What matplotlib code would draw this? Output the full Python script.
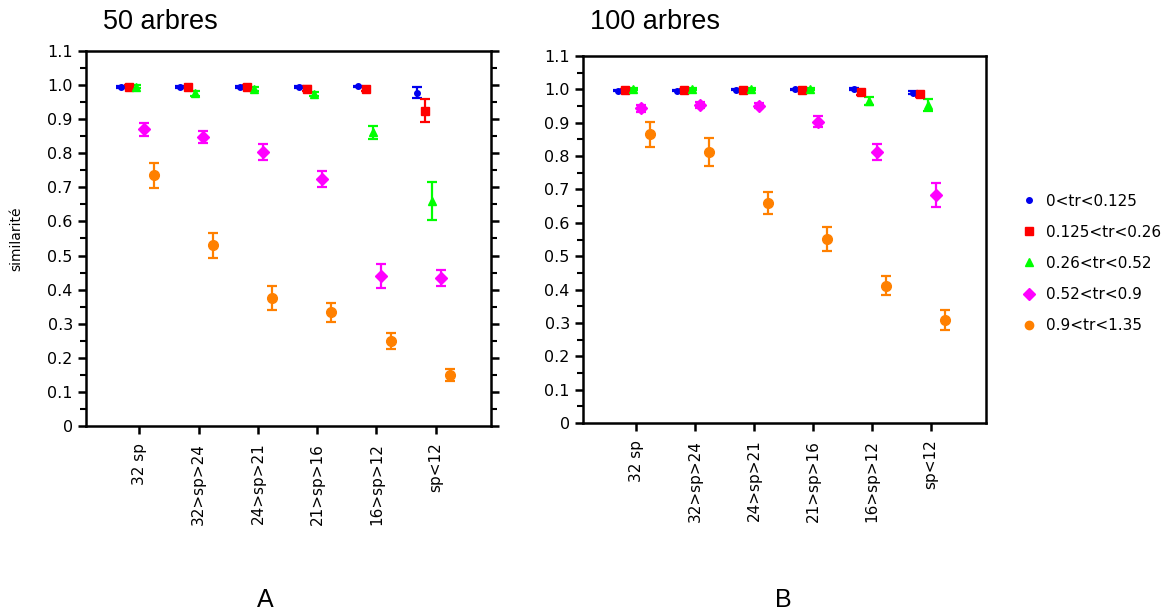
import numpy as np
import matplotlib.pyplot as plt
from matplotlib.ticker import MultipleLocator

# categories (x axis) and series labels
categories = ["32 sp", "32>sp>24", "24>sp>21", "21>sp>16", "16>sp>12", "sp<12"]
series = ["0<tr<0.125", "0.125<tr<0.26", "0.26<tr<0.52", "0.52<tr<0.9", "0.9<tr<1.35"]
colors = ["#0000ee", "#ff0000", "#00ff00", "#ff00ff", "#ff8000"]
markers = ["o", "s", "^", "D", "o"]
msizes = [4, 6, 6, 6, 7]

# 50 arbres : mean similarity and error per series
a_blue = [0.994, 0.994, 0.994, 0.994, 0.996, 0.978]
a_blue_err = [0.002, 0.002, 0.002, 0.002, 0.002, 0.015]
a_red = [0.995, 0.993, 0.995, 0.989, 0.988, 0.925]
a_red_err = [0.004, 0.002, 0.005, 0.007, 0.006, 0.033]
a_green = [0.995, 0.976, 0.988, 0.974, 0.862, 0.660]
a_green_err = [0.004, 0.008, 0.005, 0.006, 0.019, 0.056]
a_mag = [0.870, 0.848, 0.803, 0.724, 0.440, 0.435]
a_mag_err = [0.018, 0.017, 0.023, 0.023, 0.036, 0.023]
a_orange = [0.735, 0.530, 0.376, 0.333, 0.250, 0.150]
a_orange_err = [0.037, 0.037, 0.036, 0.027, 0.024, 0.017]

# 100 arbres
b_blue = [0.996, 0.996, 0.999, 1.000, 1.000, 0.990]
b_blue_err = [0.002, 0.002, 0.002, 0.002, 0.003, 0.005]
b_red = [0.998, 0.998, 0.998, 0.998, 0.991, 0.985]
b_red_err = [0.004, 0.004, 0.004, 0.004, 0.008, 0.008]
b_green = [1.000, 1.000, 1.000, 1.000, 0.965, 0.952]
b_green_err = [0.003, 0.003, 0.003, 0.003, 0.012, 0.018]
b_mag = [0.943, 0.953, 0.951, 0.903, 0.812, 0.683]
b_mag_err = [0.010, 0.010, 0.008, 0.017, 0.024, 0.037]
b_orange = [0.865, 0.812, 0.658, 0.552, 0.412, 0.309]
b_orange_err = [0.038, 0.041, 0.033, 0.037, 0.028, 0.031]

panel_a = [(a_blue, a_blue_err), (a_red, a_red_err), (a_green, a_green_err),
           (a_mag, a_mag_err), (a_orange, a_orange_err)]
panel_b = [(b_blue, b_blue_err), (b_red, b_red_err), (b_green, b_green_err),
           (b_mag, b_mag_err), (b_orange, b_orange_err)]

offsets = [-0.31, -0.18, -0.06, 0.08, 0.24]

plt.rcParams['font.family'] = ['DejaVu Sans']

fig = plt.figure(figsize=(11.68, 6.15), dpi=100)
ax1 = fig.add_axes([0.0736, 0.3073, 0.3467, 0.6098])
ax2 = fig.add_axes([0.4991, 0.3122, 0.3450, 0.5967])


def draw_panel(ax, data, right_ticks):
    x = np.arange(1, len(categories) + 1)
    for i, (vals, errs) in enumerate(data):
        ax.errorbar(x + offsets[i], vals, yerr=errs, fmt=markers[i], color=colors[i],
                    ms=msizes[i], mec=colors[i], elinewidth=1.6, capsize=3.5,
                    capthick=1.6, label=series[i])
    ax.set_xlim(0.1, 6.93)
    ax.set_ylim(0, 1.1)
    ax.set_xticks(x)
    ax.set_xticklabels(categories, rotation=90, fontsize=11)
    yt = np.arange(0, 1.11, 0.1)
    ax.set_yticks(yt)
    ax.set_yticklabels(['0' if abs(v) < 1e-9 else '%.1f' % v for v in yt], fontsize=11.5)
    ax.yaxis.set_minor_locator(MultipleLocator(0.05))
    ax.tick_params(axis='both', which='major', direction='out', length=6, width=1.8,
                   right=right_ticks)
    ax.tick_params(axis='y', which='minor', direction='out', length=4, width=1.5,
                   right=right_ticks)
    ax.tick_params(axis='x', pad=6)
    for s in ax.spines.values():
        s.set_linewidth(1.8)


draw_panel(ax1, panel_a, True)
draw_panel(ax2, panel_b, False)

ax1.set_ylabel("similarité", fontsize=10)
ax1.yaxis.set_label_coords(-0.155, 0.5)

fig.text(103 / 1168, 1 - 22 / 615, "50 arbres", fontsize=19.5, family='Liberation Sans',
         va='center', ha='left')
fig.text(590 / 1168, 1 - 22 / 615, "100 arbres", fontsize=19.5, family='Liberation Sans',
         va='center', ha='left')
fig.text(265 / 1168, 1 - 600 / 615, "A", fontsize=18, family='Liberation Sans',
         va='center', ha='center')
fig.text(783 / 1168, 1 - 600 / 615, "B", fontsize=18, family='Liberation Sans',
         va='center', ha='center')

leg_handles = [plt.Line2D([], [], ls='none', marker=markers[i], color=colors[i],
                          ms=[4, 6, 6, 6, 6][i]) for i in range(5)]
fig.legend(leg_handles, series, loc='upper left', bbox_to_anchor=(1008 / 1168, 1 - 180 / 615),
           frameon=False, fontsize=11, handlelength=1.0, handletextpad=0.6,
           labelspacing=1.05)

fig.savefig("out.png", dpi=100)
